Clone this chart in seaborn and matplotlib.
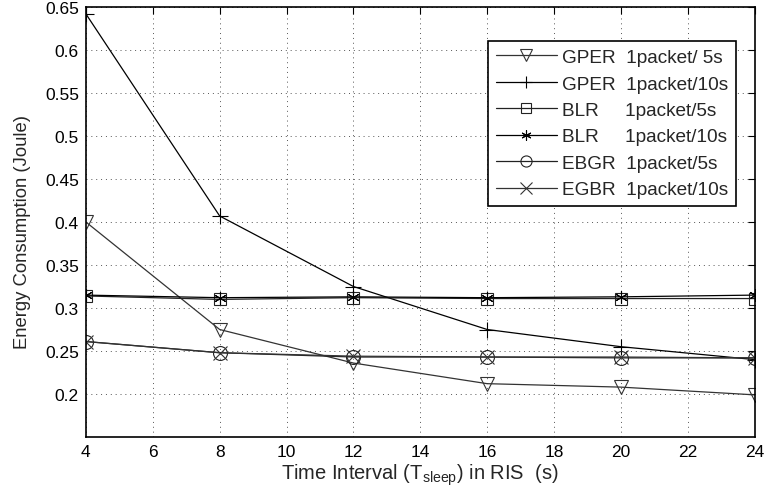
import matplotlib
matplotlib.use("Agg")
import matplotlib.pyplot as plt
import seaborn as sns
import pandas as pd

x_vals = [4, 8, 12, 16, 20, 24]
gper_5s = [0.400, 0.275, 0.236, 0.212, 0.208, 0.199]
gper_10s = [0.642, 0.407, 0.325, 0.275, 0.255, 0.240]
blr_5s = [0.314, 0.310, 0.312, 0.311, 0.311, 0.311]
blr_10s = [0.315, 0.312, 0.313, 0.312, 0.313, 0.315]
ebgr_5s = [0.261, 0.248, 0.243, 0.243, 0.242, 0.242]
egbr_10s = [0.261, 0.248, 0.244, 0.243, 0.243, 0.242]

labels = ["GPER  1packet/ 5s", "GPER  1packet/10s", "BLR     1packet/5s",
          "BLR     1packet/10s", "EBGR  1packet/5s", "EGBR  1packet/10s"]
series = [gper_5s, gper_10s, blr_5s, blr_10s, ebgr_5s, egbr_10s]
markers = ["v", "+", "s", (6, 2, 0), "o", "x"]
msizes = [10, 11, 9, 9, 10, 10]
colors = ["#333333", "#000000", "#222222", "#000000", "#222222", "#333333"]

sns.set_style("white")
plt.rcParams['font.family'] = ['Liberation Sans', 'DejaVu Sans']
plt.rcParams['mathtext.fontset'] = 'custom'
plt.rcParams['mathtext.rm'] = 'Liberation Sans'
plt.rcParams['mathtext.it'] = 'Liberation Sans'

fig = plt.figure(figsize=(7.67, 5.02), dpi=100)
ax = fig.add_axes([0.112, 0.1275, 0.872, 0.8565])

for lab, ys, m, ms, c in zip(labels, series, markers, msizes, colors):
    df = pd.DataFrame({"x": x_vals, "y": ys})
    sns.lineplot(data=df, x="x", y="y", ax=ax, label=lab, color=c,
                 marker=m, markersize=ms,
                 markerfacecolor="none", markeredgecolor=c,
                 markeredgewidth=0.8, linewidth=0.9)

ax.set_xlim(4, 24)
ax.set_ylim(0.15, 0.65)
ax.set_xticks(range(4, 25, 2))
yt = [0.2, 0.25, 0.3, 0.35, 0.4, 0.45, 0.5, 0.55, 0.6, 0.65]
ax.set_yticks(yt)
ax.set_yticklabels([f"{v:g}" for v in yt])
ax.tick_params(direction="in", top=True, right=True, labelsize=12.5, length=5,
               width=0.8, colors="black", pad=5)
ax.grid(True, linestyle=(0, (1, 4)), color="#555555", linewidth=0.7)
for s in ax.spines.values():
    s.set_color("black")
    s.set_linewidth(1.2)

ax.set_xlabel(r"Time Interval (T$_{\mathrm{sleep}}$) in RIS  (s)", fontsize=14.5, labelpad=2)
ax.set_ylabel("Energy Consumption (Joule)", fontsize=13.3, labelpad=6)
ax.yaxis.set_label_coords(-0.082, 0.48)

leg = ax.legend(loc="upper right", bbox_to_anchor=(0.9726, 0.9216),
                borderaxespad=0, fontsize=13.7, fancybox=False, framealpha=1,
                edgecolor="black", handlelength=3.2, labelspacing=0.48,
                borderpad=0.42, handletextpad=0.3, markerscale=0.8)
leg.get_frame().set_linewidth(1.2)

fig.savefig("out.png", dpi=100)
